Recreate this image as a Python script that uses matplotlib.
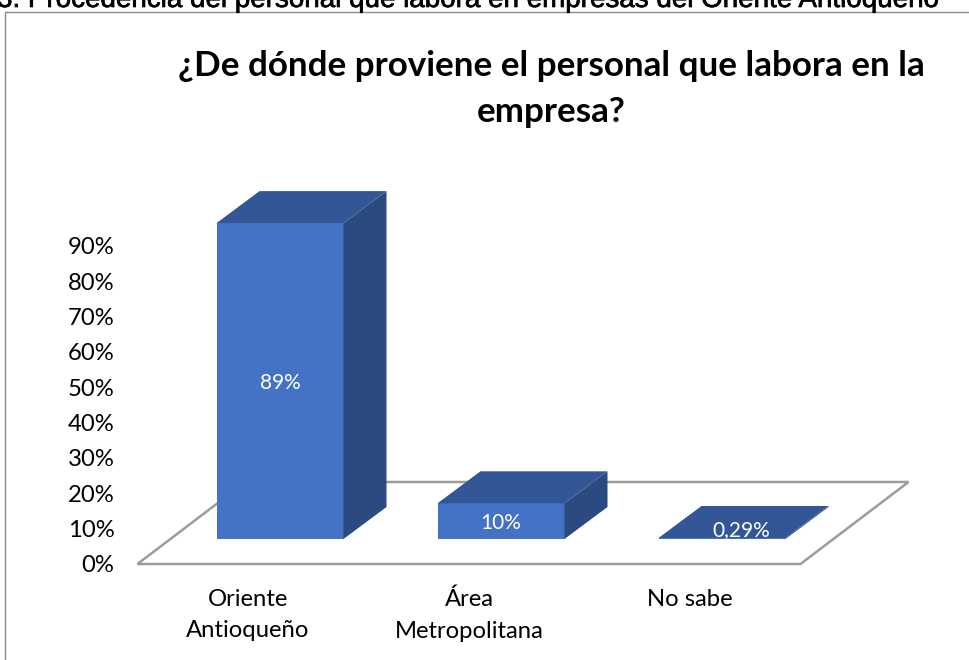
import matplotlib
matplotlib.use('Agg')
import matplotlib.pyplot as plt
import matplotlib.patheffects as pe
from matplotlib.patches import Polygon

categories = ['Oriente\nAntioqueño', 'Área\nMetropolitana', 'No sabe']
values = [89.4, 10.1, 0.29]
value_labels = ['89%', '10%', '0,29%']
y_ticks = [0, 10, 20, 30, 40, 50, 60, 70, 80, 90]

W, H = 969, 660
FRONT = '#4472C4'
TOP = '#335796'
SIDE = '#2B4A80'
FLOOR = '#9C9C9C'
BODY_FONT = ['Lato', 'DejaVu Sans']

# 3d look: offsets in data units (1 category = 221 px, 1% = 3.533 px)
px_x = 221
px_y = 3.533
bar_w = 127 / px_x
bar_dx = 32 / px_x      # front of bar vs front of floor
bar_dy = 25 / px_y
depth_x = 43 / px_x
depth_y = 32 / px_y
floor_x = 108 / px_x
floor_y = 82 / px_y

fig = plt.figure(figsize=(W / 100, H / 100), dpi=100)

# axes runs over the floor front edge, bars stick out above via clip_on=False
left, right, bottom, top = 137.5, 800.5, 564, 246
ax = fig.add_axes([left / W, 1 - bottom / H, (right - left) / W, (bottom - top) / H])
ax.set_xlim(-0.5, 2.5)
ax.set_ylim(0, 90)
ax.patch.set_visible(False)
for s in ax.spines.values():
    s.set_visible(False)

# floor
floor = Polygon([(-0.5, 0), (2.5, 0), (2.5 + floor_x, floor_y), (-0.5 + floor_x, floor_y)],
                closed=True, facecolor='white', edgecolor=FLOOR, linewidth=1.8, clip_on=False, zorder=1)
ax.add_patch(floor)

xs = [i + bar_dx for i in range(len(values))]
ax.bar(xs, values, width=bar_w, bottom=bar_dy, color=FRONT, zorder=3, clip_on=False)

for x, v in zip(xs, values):
    x0, x1 = x - bar_w / 2, x + bar_w / 2
    y0, y1 = bar_dy, bar_dy + v
    top_face = [(x0, y1), (x1, y1), (x1 + depth_x, y1 + depth_y), (x0 + depth_x, y1 + depth_y)]
    side_face = [(x1, y0), (x1 + depth_x, y0 + depth_y), (x1 + depth_x, y1 + depth_y), (x1, y1)]
    ax.add_patch(Polygon(side_face, closed=True, facecolor=SIDE, edgecolor='none', clip_on=False, zorder=3))
    ax.add_patch(Polygon(top_face, closed=True, facecolor=TOP, edgecolor='none', clip_on=False, zorder=3))

# data labels, the small one was moved by hand in the original
label_shift = [(0, -0.5), (0, -0.5), (depth_x / 2 - 0.01, 2.5)]
for x, v, t, (sx, sy) in zip(xs, values, value_labels, label_shift):
    ax.text(x + sx, bar_dy + v / 2 + sy, t, color='white', fontsize=15, ha='center', va='center',
            family=BODY_FONT, zorder=5, clip_on=False)

ax.set_xticks(range(len(categories)))
ax.set_xticklabels(categories, fontsize=17.2, family=BODY_FONT, color='black', linespacing=1.6)
ax.set_yticks(y_ticks)
ax.set_yticklabels([f'{t}%' for t in y_ticks], fontsize=17.2, family=BODY_FONT, color='black')
ax.tick_params(axis='x', length=0, pad=18)
ax.tick_params(axis='y', length=0, pad=16.5)

# chart frame, cut off by the page on the right and bottom
fig.add_artist(plt.Line2D([5 / W, 5 / W, 1], [0, 1 - 12 / H, 1 - 12 / H], color='#8C8C8C', linewidth=1.0))

fig.text(551 / W, 1 - 66 / H, '¿De dónde proviene el personal que labora en la', fontsize=25.2,
         fontweight='bold', family=BODY_FONT, ha='center', va='center', color='black')
fig.text(551 / W, 1 - 112 / H, 'empresa?', fontsize=25.2,
         fontweight='bold', family=BODY_FONT, ha='center', va='center', color='black')

# caption from the page, only its lower part shows
cap = fig.text(-3 / W, 1 - 7 / H, '3. Procedencia del personal que labora en empresas del Oriente Antioqueño',
               fontsize=20, family=['Liberation Sans'], ha='left', va='baseline', color='black')
cap.set_path_effects([pe.withStroke(linewidth=0.5, foreground='black')])

plt.savefig('out.png', dpi=100)
